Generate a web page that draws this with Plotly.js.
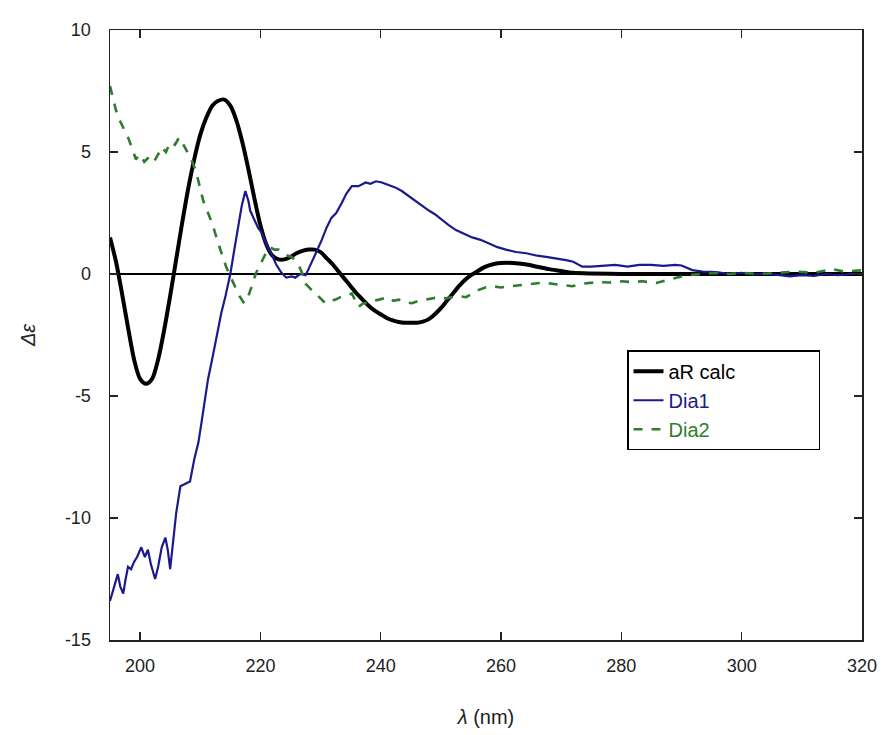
<!DOCTYPE html>
<html>
<head>
<meta charset="utf-8">
<script src="https://cdn.plot.ly/plotly-3.0.1.min.js"></script>
<style>html,body{margin:0;padding:0;background:#fff;}#chart{width:885px;height:735px;}</style>
</head>
<body>
<div id="chart"></div>
<script>
// aR calc (calculated ECD)
const calcX = [195,196,197,198,199,200,201,202,203,204,205,206,207,208,209,210,211,212,213,214,215,216,217,218,219,220,221,222,223,224,225,226,227,228,229,230,231,232,233,234,235,236,237,238,239,240,241,242,243,244,245,246,247,248,249,250,251,252,253,254,255,256,257,258,259,260,262,264,266,268,270,272,275,280,290,300,310,320];
const calcY = [1.5,0.5,-0.8,-2.2,-3.5,-4.3,-4.5,-4.3,-3.5,-2.3,-0.9,0.6,2.1,3.5,4.7,5.7,6.4,6.9,7.1,7.15,6.9,6.3,5.4,4.3,3.1,2.0,1.2,0.75,0.6,0.6,0.7,0.85,0.95,1.0,1.0,0.9,0.65,0.4,0.1,-0.2,-0.5,-0.8,-1.05,-1.3,-1.5,-1.65,-1.8,-1.9,-1.97,-2.0,-2.0,-2.0,-1.95,-1.85,-1.65,-1.4,-1.1,-0.8,-0.5,-0.25,-0.05,0.1,0.25,0.35,0.42,0.45,0.45,0.4,0.3,0.2,0.12,0.05,0.02,0,0,0,0,0];

// Dia1 (measured)
const dia1X = [195.0,195.5,196.0,196.3,196.7,197.2,197.6,198.0,198.5,199.0,199.5,200.2,200.8,201.3,201.8,202.5,203.0,203.6,204.2,204.6,205.0,205.5,206.0,206.7,207.5,208.3,209.0,209.7,210.2,210.7,211.3,211.9,212.5,213.0,213.5,214.2,215.0,215.6,216.3,216.9,217.5,218.0,218.3,219.0,219.6,220.2,221.0,221.8,222.6,223.5,224.3,225.2,225.8,226.6,227.5,228.0,228.5,229.3,230.2,231.0,231.8,232.6,233.5,234.3,235.2,236.3,237.5,238.3,239.2,240.2,241.3,242.4,243.5,244.6,245.8,247.0,248.0,249.0,250.2,251.3,252.5,253.8,255.2,256.6,258.0,259.4,260.8,262.5,264.2,266.0,267.5,269.0,270.8,272.0,273.5,275.0,277.0,279.0,281.0,283.0,285.0,287.0,289.0,290.0,291.8,293.5,295.8,298.0,300.0,302.0,304.0,306.0,308.0,310.0,312.0,314.0,316.0,318.0,320.0];
const dia1Y = [-13.4,-13.0,-12.6,-12.3,-12.8,-13.1,-12.5,-12.0,-12.1,-11.8,-11.6,-11.2,-11.6,-11.3,-11.9,-12.5,-12.0,-11.2,-10.8,-11.3,-12.1,-11.0,-9.8,-8.7,-8.6,-8.5,-7.6,-6.9,-6.1,-5.3,-4.3,-3.6,-2.8,-2.2,-1.6,-0.9,0.0,0.9,1.9,2.8,3.4,3.0,2.6,2.2,1.9,1.7,1.2,0.85,0.4,0.05,-0.15,-0.1,-0.15,0.0,-0.05,0.2,0.45,0.9,1.4,1.9,2.3,2.5,2.9,3.3,3.6,3.6,3.75,3.7,3.8,3.75,3.65,3.55,3.4,3.2,3.0,2.8,2.6,2.45,2.2,2.0,1.8,1.65,1.5,1.4,1.25,1.1,1.0,0.9,0.85,0.75,0.7,0.65,0.57,0.5,0.3,0.3,0.35,0.37,0.3,0.37,0.37,0.33,0.37,0.35,0.16,0.1,0.08,0.0,0.05,-0.02,0.02,-0.05,-0.1,-0.05,-0.08,0.0,-0.05,0.0,0.0];

// Dia2 (measured)
const dia2X = [195.0,195.5,196.0,196.6,197.2,198.0,198.6,199.3,200.0,200.7,201.5,202.3,203.0,203.6,204.3,205.0,205.8,206.5,207.2,207.8,208.5,209.3,209.9,210.5,211.3,212.1,212.8,213.6,214.3,215.0,215.8,216.5,217.3,218.0,218.5,219.2,220.0,220.8,221.6,222.3,223.0,224.0,225.2,226.3,227.0,227.5,228.3,229.2,230.0,230.8,231.6,232.5,233.3,234.2,235.2,236.3,237.1,238.0,238.8,239.7,240.5,241.3,242.1,243.0,244.0,245.2,246.3,247.5,248.6,249.7,250.8,251.8,253.0,254.2,255.3,256.3,257.4,258.5,260.0,261.8,263.5,265.2,267.0,268.5,270.0,271.8,273.5,275.0,276.3,278.0,280.0,281.8,283.5,285.8,287.5,289.0,290.0,291.3,293.5,295.8,298.0,300.0,303.0,306.0,309.0,312.0,315.0,317.0,320.0];
const dia2Y = [7.7,7.2,6.7,6.3,6.0,5.6,5.2,4.7,4.9,4.6,4.8,4.6,4.9,5.2,5.0,5.4,5.3,5.6,5.3,5.0,4.7,4.2,3.6,3.0,2.5,2.0,1.4,0.8,0.3,-0.1,-0.5,-0.9,-1.2,-0.9,-0.55,0.0,0.4,0.8,1.1,1.0,1.0,0.8,0.7,0.4,0.0,-0.4,-0.6,-0.8,-1.0,-1.2,-1.1,-1.05,-0.95,-0.9,-0.8,-1.35,-1.2,-1.2,-1.1,-1.05,-1.0,-0.95,-1.1,-1.05,-1.15,-1.2,-1.1,-1.05,-1.0,-0.95,-1.0,-0.95,-0.9,-0.95,-0.8,-0.65,-0.55,-0.5,-0.55,-0.5,-0.45,-0.4,-0.35,-0.4,-0.45,-0.5,-0.4,-0.35,-0.33,-0.35,-0.3,-0.33,-0.3,-0.37,-0.25,-0.16,-0.1,-0.04,0.0,0.04,0.0,0.05,0.0,0.05,0.1,0.05,0.2,0.1,0.15];

const xTicks = [200,220,240,260,280,300,320];
const yTicks = [-15,-10,-5,0,5,10];

const NB = '\u00a0';
const traces = [
  {x: calcX, y: calcY, type: 'scatter', mode: 'lines', name: 'aR calc' + NB.repeat(14),
   line: {color: '#000000', width: 4, shape: 'spline', smoothing: 0.8}},
  {x: dia1X, y: dia1Y, type: 'scatter', mode: 'lines', name: '<span style="color:#1a1a8c">Dia1</span>',
   line: {color: '#1a1a8c', width: 2.2}},
  {x: dia2X, y: dia2Y, type: 'scatter', mode: 'lines', name: '<span style="color:#2e7d2e">Dia2</span>',
   line: {color: '#2e7d2e', width: 2.6, dash: 'dash'}}
];

const axisCommon = {
  showline: true, linecolor: '#222', linewidth: 1.5, mirror: 'ticks',
  ticks: 'inside', ticklen: 8, tickwidth: 1.2, tickcolor: '#222',
  showgrid: false,
  tickfont: {family: 'Arial, Liberation Sans, sans-serif', size: 18, color: '#222'}
};

const layout = {
  width: 885, height: 735,
  margin: {l: 110, r: 23, t: 30, b: 95},
  paper_bgcolor: '#fff', plot_bgcolor: '#fff',
  showlegend: true,
  legend: {
    x: 0.6875, y: 0.475, xanchor: 'left', yanchor: 'top',
    bgcolor: '#fff', bordercolor: '#000', borderwidth: 1.5,
    font: {family: 'Arial, Liberation Sans, sans-serif', size: 20, color: '#000'},
    tracegroupgap: 0
  },
  xaxis: Object.assign({}, axisCommon, {
    range: [195, 320], tickvals: xTicks, ticktext: xTicks.map(String),
    zeroline: false, ticklabelstandoff: 9,
    title: {text: '<i>λ</i> (nm)', standoff: 35, font: {family: 'Arial, Liberation Sans, sans-serif', size: 20, color: '#222'}}
  }),
  yaxis: Object.assign({}, axisCommon, {
    range: [-15, 10], tickvals: yTicks, ticktext: yTicks.map(String),
    zeroline: true, zerolinecolor: '#000', zerolinewidth: 1.2, ticklabelstandoff: 14,
    title: {text: '<i>Δε</i>', standoff: 24, font: {family: 'Arial, Liberation Sans, sans-serif', size: 20, color: '#222'}}
  })
};

Plotly.newPlot('chart', traces, layout, {displayModeBar: false, staticPlot: true});
</script>
</body>
</html>
